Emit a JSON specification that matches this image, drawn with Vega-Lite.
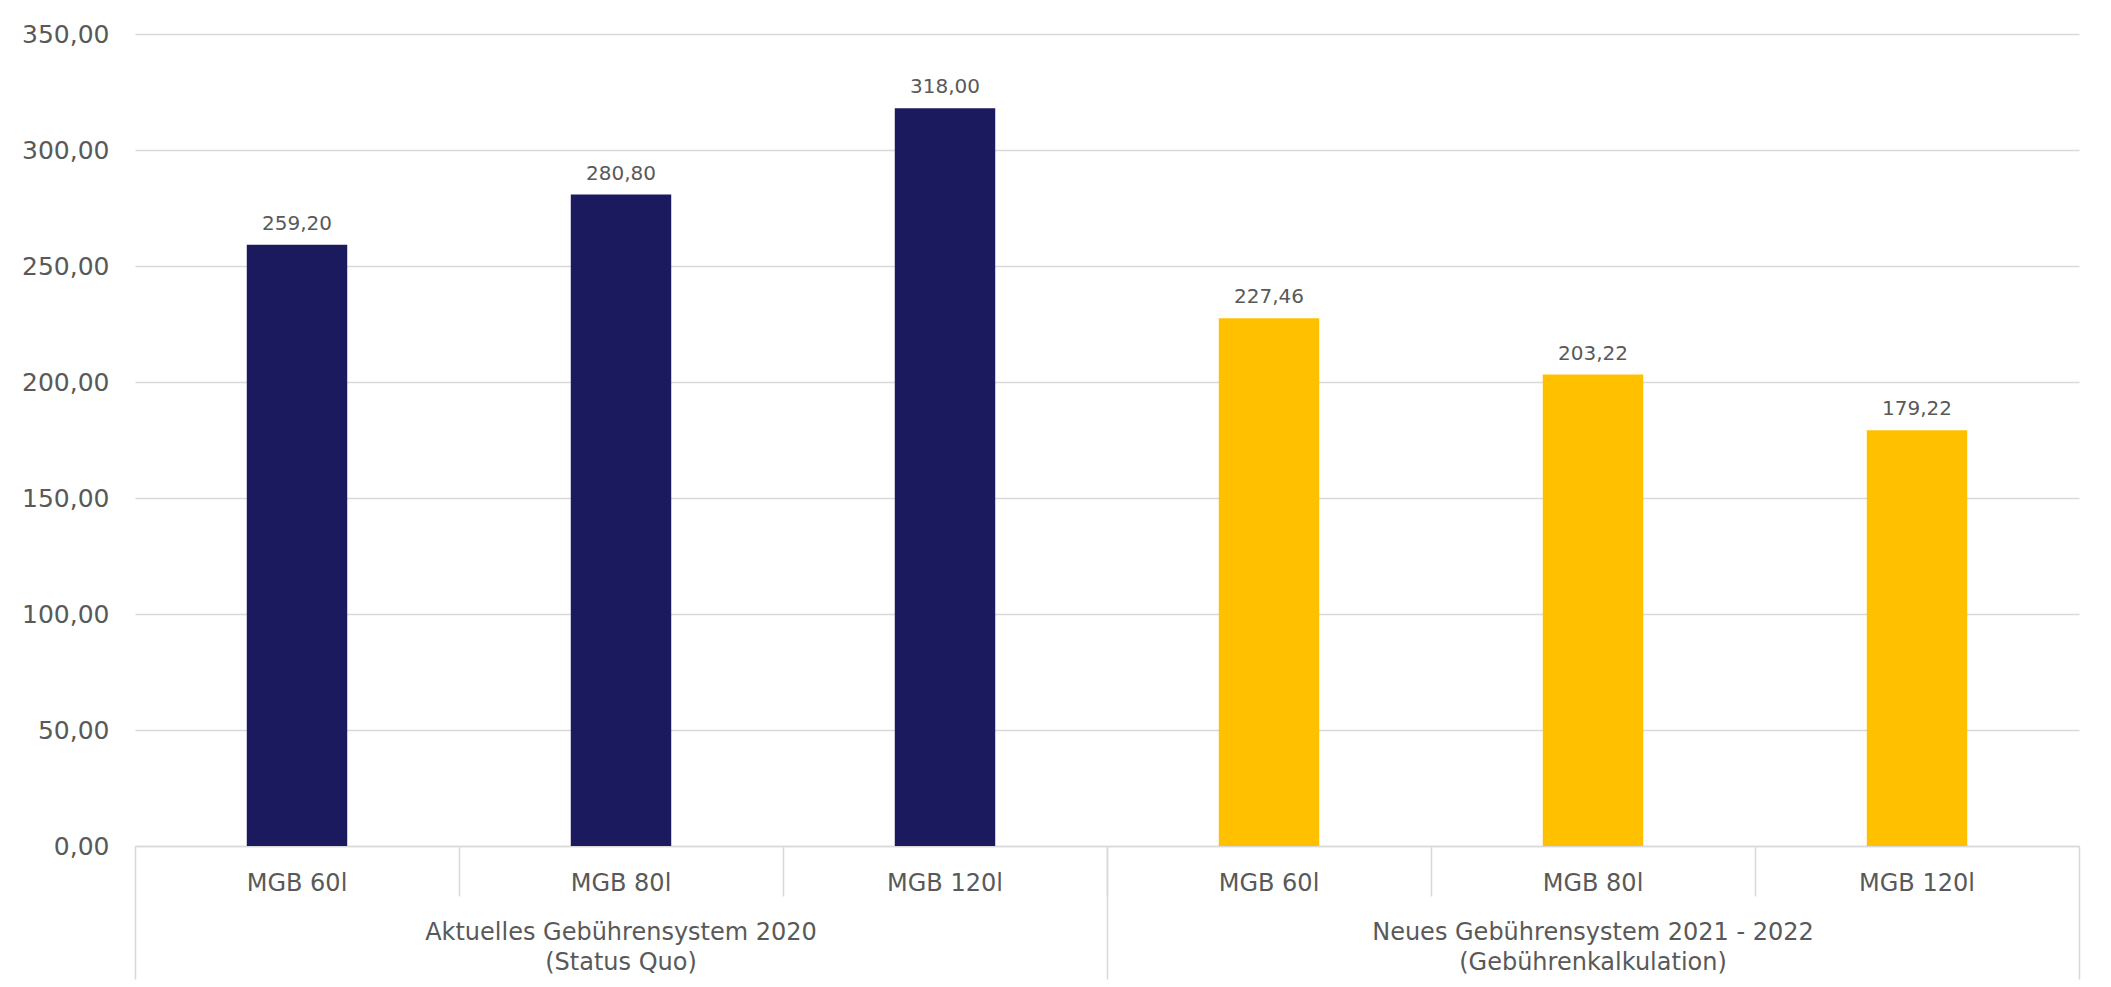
{
  "$schema": "https://vega.github.io/schema/vega-lite/v6.json",
  "width": 1944,
  "height": 812,
  "autosize": {"type": "none"},
  "padding": {"left": 135, "top": 34, "right": 32, "bottom": 141},
  "background": "white",
  "config": {
    "view": {"stroke": null},
    "font": "DejaVu Sans",
    "locale": {"number": {"decimal": ",", "thousands": ".", "grouping": [3], "currency": ["", " €"]}}
  },
  "data": {
    "values": [
      {"gruppe": "Aktuelles Gebührensystem 2020 (Status Quo)", "behaelter": "MGB 60l", "id": "A|MGB 60l", "wert": 259.20},
      {"gruppe": "Aktuelles Gebührensystem 2020 (Status Quo)", "behaelter": "MGB 80l", "id": "A|MGB 80l", "wert": 280.80},
      {"gruppe": "Aktuelles Gebührensystem 2020 (Status Quo)", "behaelter": "MGB 120l", "id": "A|MGB 120l", "wert": 318.00},
      {"gruppe": "Neues Gebührensystem 2021 - 2022 (Gebührenkalkulation)", "behaelter": "MGB 60l", "id": "N|MGB 60l", "wert": 227.46},
      {"gruppe": "Neues Gebührensystem 2021 - 2022 (Gebührenkalkulation)", "behaelter": "MGB 80l", "id": "N|MGB 80l", "wert": 203.22},
      {"gruppe": "Neues Gebührensystem 2021 - 2022 (Gebührenkalkulation)", "behaelter": "MGB 120l", "id": "N|MGB 120l", "wert": 179.22}
    ]
  },
  "resolve": {"scale": {"x": "independent"}, "axis": {"x": "independent"}},
  "layer": [
    {
      "encoding": {
        "x": {
          "field": "id", "type": "nominal", "sort": null,
          "scale": {"paddingInner": 0, "paddingOuter": 0},
          "axis": {
            "orient": "bottom",
            "title": null,
            "labelExpr": "split(datum.value, '|')[1]",
            "labelAngle": 0,
            "labelFontSize": 24,
            "labelColor": "#595959",
            "labelBaseline": "alphabetic",
            "labelPadding": {"condition": {"test": "datum.value == 'A|MGB 60l'", "value": -89}, "value": -6},
            "labelLimit": 1000,
            "bandPosition": 0,
            "tickSize": {"condition": {"test": "datum.value == 'A|MGB 60l'", "value": 133}, "value": 50},
            "tickColor": "#D9D9D9",
            "tickWidth": 1.5,
            "domainColor": "#D9D9D9",
            "domainWidth": 1.5,
            "grid": false
          }
        },
        "y": {
          "field": "wert", "type": "quantitative",
          "scale": {"domain": [0, 350], "nice": false},
          "axis": {
            "title": null,
            "values": [0, 50, 100, 150, 200, 250, 300, 350],
            "format": ".2f",
            "labelFontSize": 25,
            "labelColor": "#595959",
            "labelPadding": 26,
            "domain": false,
            "ticks": false,
            "grid": true,
            "gridColor": "#D9D9D9",
            "gridWidth": 1.5
          }
        }
      },
      "layer": [
        {
          "mark": {"type": "bar", "width": {"band": 0.31}},
          "encoding": {
            "color": {"field": "gruppe", "type": "nominal", "scale": {"range": ["#1c1a5e", "#ffc000"]}, "legend": null}
          }
        },
        {
          "mark": {"type": "text", "dy": -15, "baseline": "alphabetic", "fontSize": 20, "color": "#595959"},
          "encoding": {
            "text": {"field": "wert", "type": "quantitative", "format": ".2f"}
          }
        }
      ]
    },
    {
      "mark": {"type": "rule", "opacity": 0},
      "encoding": {
        "x": {
          "field": "gruppe", "type": "nominal", "sort": null,
          "scale": {"paddingInner": 0, "paddingOuter": 0},
          "axis": {
            "orient": "bottom",
            "title": null,
            "labelExpr": "[split(datum.value, ' (')[0], '(' + split(datum.value, ' (')[1]]",
            "labelAngle": 0,
            "labelFontSize": 24,
            "labelColor": "#595959",
            "labelBaseline": "alphabetic",
            "labelLineHeight": 30,
            "labelPadding": -40,
            "labelLimit": 1000,
            "bandPosition": 1,
            "tickSize": 133,
            "tickColor": "#D9D9D9",
            "tickWidth": 1.5,
            "domain": false,
            "grid": false
          }
        }
      }
    }
  ]
}
